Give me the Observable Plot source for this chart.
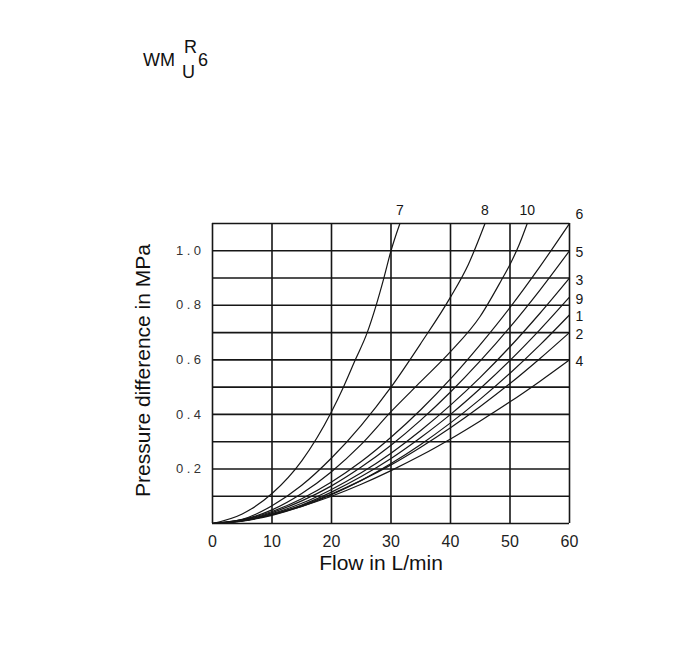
<!DOCTYPE html>
<html><head><meta charset="utf-8">
<script src="https://cdn.jsdelivr.net/npm/d3@7"></script>
<script src="https://cdn.jsdelivr.net/npm/@observablehq/plot@0.6"></script>
<style>
body{margin:0;background:#fff;font-family:"Liberation Sans",Arial,sans-serif;}
#title{position:relative;height:90px;width:700px;}
#title span{position:absolute;font-size:18px;line-height:1;color:#111;}
g[aria-label="y-axis tick label"]{font-size:13px;}
g[aria-label="y-axis tick label"] text{letter-spacing:3.5px;font-size:13px;}
</style></head><body>
<div id="title"><span style="left:143px;top:51px">WM</span><span style="left:184px;top:38px">R</span><span style="left:182px;top:63px">U</span><span style="left:198px;top:51px">6</span></div>
<div id="chart"></div>
<script>
// Tick / grid values
const xTicks = [0, 10, 20, 30, 40, 50, 60];
const yTicks = [0.2, 0.4, 0.6, 0.8, 1.0];
const xGrid = [0, 10, 20, 30, 40, 50, 60];
const yGrid = [0, 0.1, 0.2, 0.3, 0.4, 0.5, 0.6, 0.7, 0.8, 0.9, 1.0, 1.1];

// Curve names
const names = ["7", "8", "10", "6", "5", "3", "9", "1", "2", "4"];

// Flow values (L/min) per curve
const flow7  = [0, 5, 10, 15, 20, 22, 24, 26, 27.5, 28.8, 30, 31.5];
const flow8  = [0, 5, 10, 15, 20, 25, 30, 35, 40, 43, 45.8];
const flow10 = [0, 5, 10, 15, 20, 25, 30, 35, 40, 45, 48.5, 50, 51.5, 52.9];
const flowB  = [0, 5, 10, 15, 20, 25, 30, 35, 40, 45, 50, 55, 60];

// Pressure difference (MPa) per curve
const p7  = [0, 0.035, 0.11, 0.23, 0.41, 0.5, 0.6, 0.7, 0.8, 0.9, 1.0, 1.1];
const p8  = [0, 0.015, 0.065, 0.14, 0.24, 0.36, 0.5, 0.66, 0.83, 0.95, 1.1];
const p10 = [0, 0.014, 0.05, 0.11, 0.19, 0.29, 0.41, 0.52, 0.63, 0.76, 0.89, 0.95, 1.02, 1.1];
const p6  = [0, 0.013, 0.044, 0.091, 0.152, 0.227, 0.316, 0.417, 0.53, 0.656, 0.792, 0.941, 1.1];
const p5  = [0, 0.011, 0.04, 0.083, 0.138, 0.207, 0.287, 0.379, 0.482, 0.596, 0.72, 0.855, 1.0];
const p3  = [0, 0.01, 0.036, 0.074, 0.125, 0.186, 0.258, 0.341, 0.434, 0.536, 0.648, 0.77, 0.9];
const p9  = [0, 0.0095, 0.033, 0.068, 0.115, 0.172, 0.238, 0.315, 0.4, 0.495, 0.598, 0.71, 0.83];
const p1  = [0, 0.009, 0.03, 0.063, 0.106, 0.158, 0.22, 0.29, 0.369, 0.456, 0.551, 0.654, 0.765];
const p2  = [0, 0.01, 0.033, 0.066, 0.108, 0.158, 0.215, 0.28, 0.351, 0.429, 0.513, 0.604, 0.7];
const p4  = [0, 0.01, 0.032, 0.063, 0.1, 0.144, 0.194, 0.249, 0.31, 0.376, 0.446, 0.521, 0.6];

const flows = [flow7, flow8, flow10, flowB, flowB, flowB, flowB, flowB, flowB, flowB];
const pressures = [p7, p8, p10, p6, p5, p3, p9, p1, p2, p4];

const rows = names.flatMap((n, k) => flows[k].map((f, i) => ({curve: n, flow: f, p: pressures[k][i]})));
const ends = names.map((n, k) => {
  const i = flows[k].length - 1;
  return {curve: n, flow: flows[k][i], p: pressures[k][i]};
});
const xMax = 60, yMax = 1.1;
const endTop = ends.filter(d => d.flow < xMax);
const endCorner = ends.filter(d => d.flow >= xMax && d.p >= yMax);
const endRight = ends.filter(d => d.flow >= xMax && d.p < yMax);

const ink = "#161616";
const chart = Plot.plot({
  width: 700,
  height: 560,
  marginLeft: 212,
  marginRight: 131,
  marginTop: 133,
  marginBottom: 127,
  style: {fontFamily: "'Liberation Sans', Arial, sans-serif", background: "white", color: ink},
  x: {domain: [0, 60]},
  y: {domain: [0, 1.1]},
  marks: [
    Plot.ruleY(yGrid, {stroke: ink, strokeWidth: 1.6}),
    Plot.ruleX(xGrid, {stroke: ink, strokeWidth: 1.6}),
    Plot.line(rows, {x: "flow", y: "p", z: "curve", stroke: ink, strokeWidth: 1.2, curve: "monotone-x"}),
    Plot.text(endTop, {x: "flow", y: "p", text: "curve", dy: -13, fontSize: 14, fill: ink}),
    Plot.text(endCorner, {x: "flow", y: "p", text: "curve", dx: 10, dy: -9, fontSize: 14, fill: ink}),
    Plot.text(endRight, {x: "flow", y: "p", text: "curve", dx: 10, dy: 2, fontSize: 14, fill: ink}),
    Plot.axisX({ticks: xTicks, tickSize: 0, tickPadding: 12, fontSize: 16, label: null, fill: "#222"}),
    Plot.axisY({ticks: yTicks, tickSize: 0, tickPadding: 8, fontSize: 13, tickFormat: d3.format(".1f"), label: null, fill: "#333"}),
    Plot.text(["Flow in L/min"], {text: d => d, frameAnchor: "bottom", dy: 46, dx: -10, fontSize: 21, fill: "#111"}),
    Plot.text(["Pressure difference in MPa"], {text: d => d, frameAnchor: "left", textAnchor: "middle", rotate: -90, dx: -69, dy: -3, fontSize: 21, fill: "#111"})
  ]
});
document.getElementById("chart").appendChild(chart);
</script>
</body></html>
